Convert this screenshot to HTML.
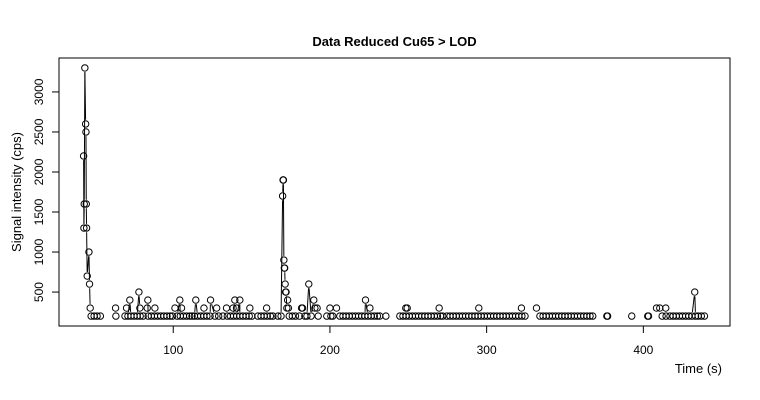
<!DOCTYPE html>
<html><head><meta charset="utf-8"><style>
body{margin:0;background:#fff}
svg{display:block;font-family:"Liberation Sans",Arial,sans-serif}
</style></head><body>
<svg id="chart" width="760" height="400" viewBox="0 0 760 400" xmlns="http://www.w3.org/2000/svg">
<rect width="760" height="400" fill="#fff"/>
<text x="394.5" y="46" text-anchor="middle" font-size="13" font-weight="bold">Data Reduced Cu65 &gt; LOD</text>
<text transform="translate(21,192) rotate(-90)" text-anchor="middle" font-size="13">Signal intensity (cps)</text>
<text x="722" y="373" text-anchor="end" font-size="13">Time (s)</text>
<g id="xaxis"></g>
<g id="yaxis"></g>
<g id="series"></g>
<rect x="59" y="58" width="671" height="268" fill="none" stroke="#000" stroke-width="1"/>
</svg>
<script>
// peak 1
const peak1Times=[42.8,43.0,43.2,43.6,44.1,44.3,44.5,44.7,45.1,46.2,46.6,47.0];
const peak1Values=[2200,1300,1600,3300,2600,2500,1600,1300,700,1000,600,300];
// peak 2
const peak2Times=[169.8,170.1,170.3,170.6,170.9,171.1,171.4,171.7,172.0,172.5,173.0,173.5];
const peak2Values=[1700,1900,1900,900,800,800,600,500,500,300,400,300];
// elevated background points
const bgTimes=[63.2,70.2,72.3,78.1,78.7,83.4,83.8,88.3,101.1,104.2,105.3,114.4,119.6,123.8,127.7,134.0,138.2,139.3,140.4,142.5,148.9,159.6,181.9,182.5,186.5,189.7,190.4,191.8,200.0,204.2,222.7,225.5,248.4,249.3,269.7,295.0,322.2,331.8,408.4,410.5,414.3,432.8];
const bgValues=[300,300,400,500,300,300,400,300,300,400,300,400,300,400,300,300,300,400,300,400,300,300,300,300,600,400,300,300,300,300,400,300,300,300,300,300,300,300,300,300,300,500];
// floor (LOD) points
const floorTimes=[47.6,49.5,51.4,53.5,63.4,69.2,71.1,73,75,77,78.9,80.8,84,86,88,90,92,94,96,98,99.5,102.5,104.5,106.5,108.5,110.5,112,113.5,115.5,117.5,119.5,121.5,123.5,126.6,129,131.7,134.5,136.5,138.5,140.5,142.5,144.5,146.5,148.5,150.2,154,156,158,160,162,163.6,166.8,168.8,174,176,178,180.5,184,185.3,188,192.5,198,200.6,201.8,206.3,208.3,210.3,212.3,214.3,216.3,218.3,220.3,222.3,224.3,226.3,228.3,230.3,231.8,235.7,244.6,246.6,248.6,250.6,252.6,254.6,256.6,258.6,260.6,262.6,264.6,266.6,268.6,270.6,272,274.6,276.6,278.6,280.6,282.6,284.6,286.6,288.6,290.6,292.6,294.5,296.5,298.5,300.5,302.5,304.5,306.5,308.5,310.5,312.5,314.5,316.5,318.5,320.5,322.5,324.5,334,336,338,340,342,344,346,348,350,352,354,356,358,360,362,364,366,367.7,376.7,377.2,392.6,402.8,403.3,412,414.5,417,419,421,423,425,427,429,431,433.3,435,437,439];
const floorValue=200;
const xTicks=[100,200,300,400];
const yTicks=[500,1000,1500,2000,2500,3000];

const NS="http://www.w3.org/2000/svg";
const X0=59,X1=730,Y0=326,Y1=58;
const xMin=27.1,xMax=455.3,yMin=76,yMax=3424;
function xs(t){return X0+(t-xMin)/(xMax-xMin)*(X1-X0);}
function ys(v){return Y0-(v-yMin)/(yMax-yMin)*(Y0-Y1);}
function mk(tag,attrs,parent){const e=document.createElementNS(NS,tag);for(const k in attrs)e.setAttribute(k,attrs[k]);parent.appendChild(e);return e;}

const xa=document.getElementById('xaxis');
xTicks.forEach(t=>{
  const l=mk('line',{x1:xs(t),x2:xs(t),y1:Y0,y2:Y0+7,stroke:'#000'},xa);
  
  
  const tx=mk('text',{x:xs(t),y:Y0+28,'text-anchor':'middle','font-size':'12'},xa);
  tx.textContent=t;
  
  
});
const ya=document.getElementById('yaxis');
yTicks.forEach(v=>{
  const l=mk('line',{x1:X0-7,x2:X0,y1:ys(v),y2:ys(v),stroke:'#000'},ya);
  
  
  const tx=mk('text',{transform:`translate(${X0-16},${ys(v)}) rotate(-90)`,'text-anchor':'middle','font-size':'12'},ya);
  tx.textContent=v;
  
  
});

let pts=[];
peak1Times.forEach((t,i)=>pts.push([t,peak1Values[i]]));
peak2Times.forEach((t,i)=>pts.push([t,peak2Values[i]]));
bgTimes.forEach((t,i)=>pts.push([t,bgValues[i]]));
floorTimes.forEach(t=>pts.push([t,floorValue]));
pts.sort((a,b)=>a[0]-b[0]);

const g=document.getElementById('series');
const gap=4.2;
for(let i=1;i<pts.length;i++){
  const ax=xs(pts[i-1][0]),ay=ys(pts[i-1][1]),bx=xs(pts[i][0]),by=ys(pts[i][1]);
  const dx=bx-ax,dy=by-ay,L=Math.hypot(dx,dy);
  if(L>2*gap+0.5 && Math.abs(dx)<5){
    const ux=dx/L,uy=dy/L;
    const s=mk('line',{x1:ax+ux*gap,y1:ay+uy*gap,x2:bx-ux*gap,y2:by-uy*gap,stroke:'#000','stroke-width':'1'},g);
    
    
  }
}
pts.forEach(p=>{
  const c=mk('circle',{cx:xs(p[0]),cy:ys(p[1]),r:3.2,fill:'none',stroke:'#000','stroke-width':'1'},g);
  
  
});
</script>
</body></html>
